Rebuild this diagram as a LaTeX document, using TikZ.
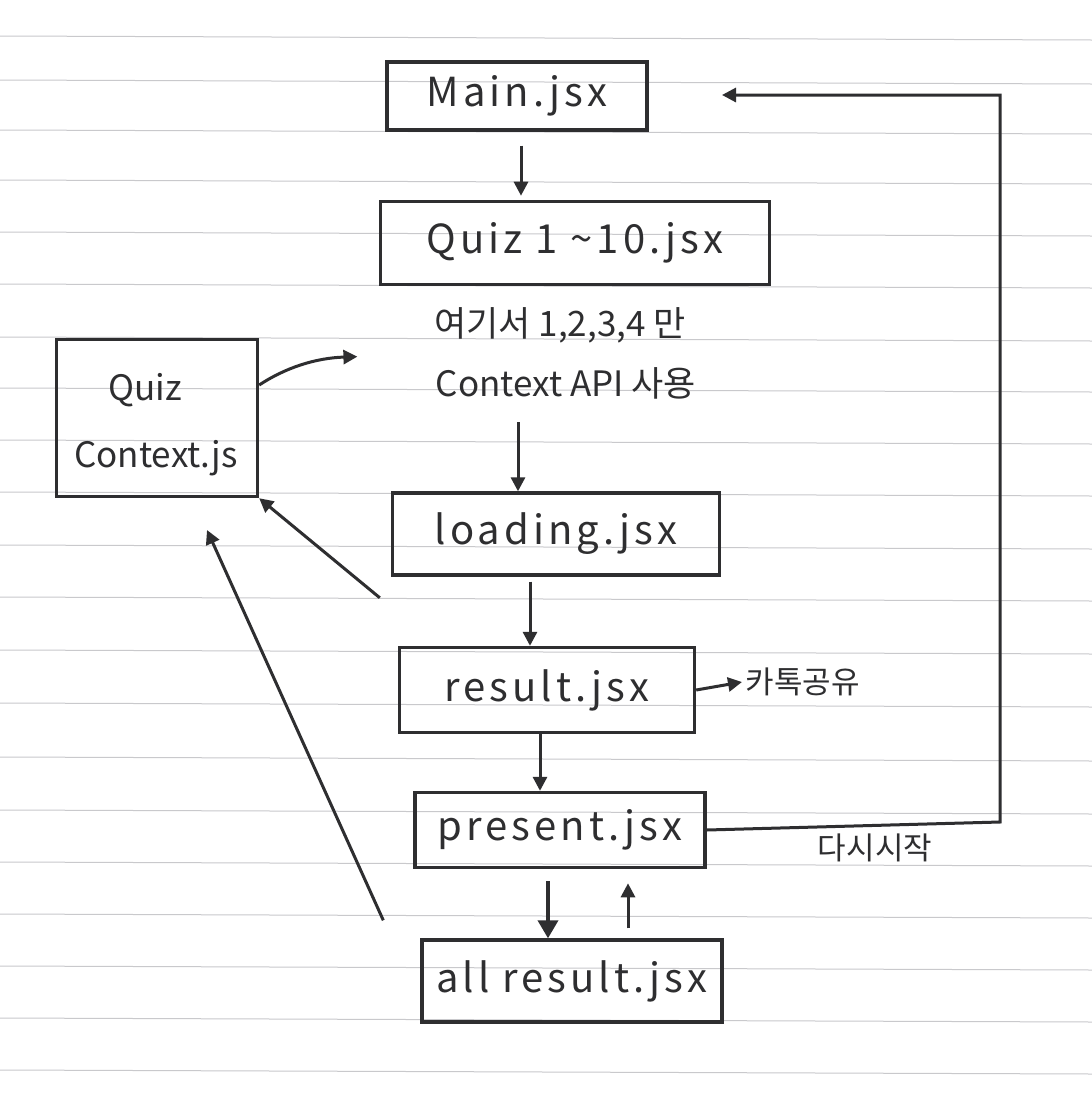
\documentclass[tikz,border=0pt]{standalone}
\usepackage{fontspec}
\setmainfont{Noto Sans CJK KR}
\newfontfamily\widefont[LetterSpace=10]{Noto Sans CJK KR}
\usetikzlibrary{arrows.meta}
\definecolor{ink}{HTML}{2E2E30}
\definecolor{rule}{HTML}{C9C9CC}
\begin{document}
\begin{tikzpicture}[x=1pt,y=-1pt,
  box/.style={draw=ink,line width=3.4pt,minimum width=#1,inner sep=0pt},
  lbl/.style={text=ink,font=\widefont\fontsize{40}{44}\selectfont},
  note/.style={text=ink,font=\fontsize{35}{40}\selectfont},
  small/.style={text=ink,font=\fontsize{31}{36}\selectfont},
  conn/.style={draw=ink,line width=3pt,-{Triangle[length=14pt,width=14pt]}}]
\useasboundingbox (0,0) rectangle (1092,1096);
\fill[white] (0,0) rectangle (1092,1096);
% ruled paper
\foreach \y in {36,80,130,180,232,284,337,388,440,492,545,597,650,703,757,810,862,914,966,1018,1070}
  \draw[rule,line width=1pt] (0,\y) -- (1092,\y+4);
% nodes
\node[box=260pt,minimum height=68pt,lbl] (main) at (517,96) {Main.jsx};
\node[box=389pt,minimum height=83pt,lbl] (quiz) at (575,243) {Quiz 1 \textasciitilde10.jsx};
\node[note] (t1) at (560,325) {여기서 1,2,3,4 만};
\node[note] (t2) at (566,383) {Context API 사용};
\node[box=201pt,minimum height=157pt] (ctx) at (157,418) {};
\node[note] (ctxa) at (145,390) {Quiz};
\node[note] (ctxb) at (156,458) {Context.js};
\node[box=327pt,minimum height=82pt,lbl] (load) at (556,534) {loading.jsx};
\node[box=295pt,minimum height=85pt,lbl] (res) at (547,690) {result.jsx};
\node[box=290pt,minimum height=75pt,lbl] (pres) at (560,830) {present.jsx};
\node[box=300pt,minimum height=82pt,lbl] (all) at (572,981) {all result.jsx};
\node[small,anchor=west] (kakao) at (742,682) {카톡공유};
\node[small] (restart) at (875,848) {다시시작};
\coordinate (c1) at (1000,822);
\coordinate (c2) at (1000,95);
\coordinate (c3) at (722,95);
\coordinate (ctxend) at ([xshift=-75pt,yshift=7pt]t2.north west);
% connectors
\draw[conn] (main.south -| 521,0) ++(0,14) -- ++(0,50);
\draw[conn] (t2.south -| 518,0) ++(0,20) -- (load.north -| 518,0);
\draw[conn] (load.south -| 530,0) ++(0,5) -- (res.north -| 530,0);
\draw[conn] (res.south -| 540,0) -- (pres.north -| 540,0);
\draw[conn,line width=3.6pt,-{Triangle[length=18pt,width=20pt]}] (pres.south -| 548,0) ++(0,12) -- (all.north -| 548,0);
\draw[conn] (all.north -| 628,0) ++(0,-10) -- ++(0,-45);
\draw[conn] (res.east) -- (kakao.west);
\draw[conn] (pres.east) -- (c1) -- (c2) -- (c3);
\draw[conn] (ctx.east |- 0,385) .. controls (285,368) and (315,358) .. (ctxend);
\draw[conn] (res.north west) ++(-18,-48) -- (ctx.south east);
\draw[conn] (all.north west) ++(-37,-18) -- (207,530);
\end{tikzpicture}
\end{document}
